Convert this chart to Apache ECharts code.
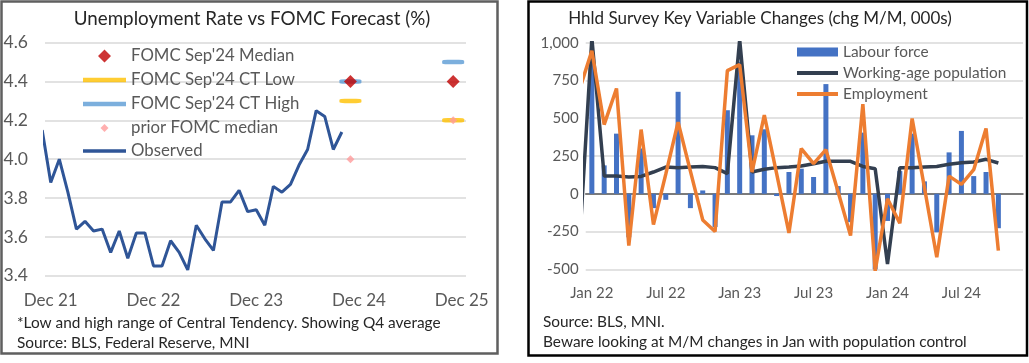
<!DOCTYPE html>
<html><head><meta charset="utf-8">
<script src="https://cdn.jsdelivr.net/npm/echarts@6/dist/echarts.min.js"></script>
<style>html,body{margin:0;padding:0;background:#fff}#c{width:1029px;height:363px}</style>
</head><body><div id="c"></div>
<script>
// ---------- Left chart data ----------
const obsMonths = ['Nov 21','Dec 21','Jan 22','Feb 22','Mar 22','Apr 22','May 22','Jun 22','Jul 22','Aug 22','Sep 22','Oct 22','Nov 22','Dec 22',
  'Jan 23','Feb 23','Mar 23','Apr 23','May 23','Jun 23','Jul 23','Aug 23','Sep 23','Oct 23','Nov 23','Dec 23',
  'Jan 24','Feb 24','Mar 24','Apr 24','May 24','Jun 24','Jul 24','Aug 24','Sep 24','Oct 24'];
const observed = [4.15, 3.88, 4.0, 3.83, 3.64, 3.68, 3.63, 3.64, 3.52, 3.63, 3.49, 3.62, 3.62, 3.45,
  3.45, 3.58, 3.52, 3.43, 3.66, 3.59, 3.53, 3.78, 3.78, 3.84, 3.73, 3.74,
  3.66, 3.86, 3.83, 3.87, 3.97, 4.05, 4.25, 4.22, 4.05, 4.14];
const fcMonths = ['Nov 24', 'Nov 25'];        // Q4 average plotted mid-quarter
const fomcMedian = [4.4, 4.4];
const ctLow = [4.3, 4.2];
const ctHigh = [4.4, 4.5];
const priorMedian = [4.0, 4.2];
const leftTicks = ['Dec 21','Dec 22','Dec 23','Dec 24','Dec 25'];

// ---------- Right chart data ----------
const hhMonths = ['Dec 21','Jan 22','Feb 22','Mar 22','Apr 22','May 22','Jun 22','Jul 22','Aug 22','Sep 22','Oct 22','Nov 22','Dec 22',
  'Jan 23','Feb 23','Mar 23','Apr 23','May 23','Jun 23','Jul 23','Aug 23','Sep 23','Oct 23','Nov 23','Dec 23',
  'Jan 24','Feb 24','Mar 24','Apr 24','May 24','Jun 24','Jul 24','Aug 24','Sep 24','Oct 24'];
const labourForce = [null, 880, 188, 398, -288, 300, -95, -40, 675, -95, 22, -220, 553,
  874, 387, 427, -15, 144, 166, 111, 726, 51, -188, 405, -520,
  -180, 150, 398, 82, -255, 274, 416, 117, 144, -228];
const workingAgePop = [-330, 1030, 117, 117, 111, 115, 144, 177, 173, 177, 181, 173, 133,
  1020, 144, 162, 173, 177, 184, 199, 215, 215, 215, 181, 166,
  -465, 173, 173, 177, 181, 195, 206, 210, 228, 204];
const employment = [690, 947, 458, 697, -343, 425, -204, 130, 474, 150, -173, -250, 815,
  855, 144, 520, 133, -259, 299, 199, 292, 10, -277, 593, -510,
  -33, -195, 498, 40, -420, 117, 62, 159, 432, -376];
const rightTicks = ['Jan 22','Jul 22','Jan 23','Jul 23','Jan 24','Jul 24'];

// ---------- helpers ----------
const MON = {Jan:1,Feb:2,Mar:3,Apr:4,May:5,Jun:6,Jul:7,Aug:8,Sep:9,Oct:10,Nov:11,Dec:12};
function mIdx(lbl, base){ const [m,y]=lbl.split(' '); return (+y)*12+MON[m] - base; }
const baseL = 21*12+12;  // Dec 21 = 0
const baseR = 22*12+1;   // Jan 22 = 0
const pairs = (months, vals, base) => months.map((m,i)=>[mIdx(m,base), vals[i]]);

const FONT = "Lato, 'Liberation Sans', sans-serif";
const GREY = '#595959';
const C = {median:'#C00000', low:'#FFC000', high:'#5B9BD5', prior:'#FF9B9B', obs:'#2F5597',
  bar:'#4472C4', pop:'#333F50', emp:'#ED7D31'};

function bboxPath(w, h, body){ // keeps icon bounding box fixed at w x h
  return 'path://M0,0L0.01,0L0.01,0.01Z M'+w+','+h+'L'+(w-0.01)+','+h+'L'+(w-0.01)+','+(h-0.01)+'Z '+body;
}
function diamondIcon(w, h, s){ const cx=w/2, cy=h/2;
  return bboxPath(w,h,'M'+(cx-s/2)+','+cy+'L'+cx+','+(cy-s/2)+'L'+(cx+s/2)+','+cy+'L'+cx+','+(cy+s/2)+'Z'); }
function barIcon(w, h, t){ const cy=h/2;
  return bboxPath(w,h,'M0,'+(cy-t/2)+'L'+w+','+(cy-t/2)+'L'+w+','+(cy+t/2)+'L0,'+(cy+t/2)+'Z'); }
const IH = 24;
function legend(name, left, cy, w, icon, color, fs){
  return {left:left, top:cy-IH/2, padding:0, itemWidth:w, itemHeight:IH, selectedMode:false,
    textStyle:{color:GREY, fontSize:fs, fontFamily:FONT},
    data:[{name:name, icon:icon, itemStyle:{color:color, borderWidth:0}}]};
}

const option = {
  animation:false,
  backgroundColor:'#fff',
  title:[
    {text:'Unemployment Rate vs FOMC Forecast (%)', left:247, top:4, textAlign:'center',
     textStyle:{fontFamily:FONT, fontSize:18.8, fontWeight:'normal', color:'#262626'}},
    {text:'Hhld Survey Key Variable Changes (chg M/M, 000s)', left:755, top:5, textAlign:'center',
     textStyle:{fontFamily:FONT, fontSize:17, fontWeight:'normal', color:'#262626'}}
  ],
  legend:[
    legend("FOMC Sep'24 Median", 83, 56, 43, diamondIcon(43,IH,13), C.median, 16.8),
    legend("FOMC Sep'24 CT Low", 83, 80, 43, barIcon(43,IH,4.5), C.low, 16.8),
    legend("FOMC Sep'24 CT High", 83, 104, 43, barIcon(43,IH,4.5), C.high, 16.8),
    legend('prior FOMC median', 83, 128, 43, diamondIcon(43,IH,8), C.prior, 16.8),
    legend('Observed', 83, 151, 43, barIcon(43,IH,3.5), C.obs, 16.8),
    legend('Labour force', 797, 52, 41, barIcon(41,IH,9), C.bar, 15.4),
    legend('Working-age population', 797, 73, 41, barIcon(41,IH,4), C.pop, 15.4),
    legend('Employment', 797, 94, 41, barIcon(41,IH,4), C.emp, 15.4)
  ],
  grid:[
    {left:45, top:42.7, width:421, height:233},
    {left:585.7, top:42.7, width:437.3, height:226.6}
  ],
  xAxis:[
    {type:'value', gridIndex:0, min:-0.67, max:48.5,
     axisLine:{show:false}, axisTick:{show:false}, splitLine:{show:false},
     axisLabel:{customValues:leftTicks.map(t=>mIdx(t,baseL)), formatter:v=>leftTicks.find(t=>mIdx(t,baseL)===v)||'',
       color:GREY, fontSize:17, fontFamily:FONT, margin:16}},
    {type:'value', gridIndex:1, min:-0.5, max:35,
     axisLine:{show:true, onZero:true, lineStyle:{color:GREY, width:1.5}}, axisTick:{show:false}, splitLine:{show:false},
     axisLabel:{customValues:rightTicks.map(t=>mIdx(t,baseR)), formatter:v=>rightTicks.find(t=>mIdx(t,baseR)===v)||'',
       color:GREY, fontSize:15, fontFamily:FONT, margin:16}}
  ],
  yAxis:[
    {type:'value', gridIndex:0, min:3.4, max:4.6, interval:0.2,
     axisLine:{show:false}, axisTick:{show:false},
     splitLine:{lineStyle:{color:'#D9D9D9', width:1.5}},
     axisLabel:{formatter:v=>v.toFixed(1), color:GREY, fontSize:17.5, fontFamily:FONT, margin:17}},
    {type:'value', gridIndex:1, min:-500, max:1000, interval:250,
     axisLine:{show:false}, axisTick:{show:false},
     splitLine:{lineStyle:{color:'#D9D9D9', width:1.5}},
     axisLabel:{formatter:v=>v.toLocaleString('en-US'), color:GREY, fontSize:15, fontFamily:FONT, margin:7}}
  ],
  series:[
    {name:"FOMC Sep'24 CT Low", type:'scatter', xAxisIndex:0, yAxisIndex:0, symbol:'roundRect', symbolSize:[22,4.5],
     itemStyle:{color:C.low}, data:pairs(fcMonths, ctLow, baseL), z:3},
    {name:"FOMC Sep'24 CT High", type:'scatter', xAxisIndex:0, yAxisIndex:0, symbol:'roundRect', symbolSize:[22,4.5],
     itemStyle:{color:C.high}, data:pairs(fcMonths, ctHigh, baseL), z:3},
    {name:'prior FOMC median', type:'scatter', xAxisIndex:0, yAxisIndex:0, symbol:'diamond', symbolSize:8,
     itemStyle:{color:C.prior}, data:pairs(fcMonths, priorMedian, baseL), z:4},
    {name:"FOMC Sep'24 Median", type:'scatter', xAxisIndex:0, yAxisIndex:0, symbol:'diamond', symbolSize:13,
     itemStyle:{color:C.median}, data:pairs(fcMonths, fomcMedian, baseL), z:5},
    {name:'Observed', type:'line', xAxisIndex:0, yAxisIndex:0, showSymbol:false, symbol:'none', clip:true,
     lineStyle:{color:C.obs, width:3}, itemStyle:{color:C.obs}, data:pairs(obsMonths, observed, baseL), z:3},

    {name:'Labour force', type:'bar', xAxisIndex:1, yAxisIndex:1, barWidth:5, clip:true,
     itemStyle:{color:C.bar}, data:pairs(hhMonths, labourForce, baseR)},
    {name:'Working-age population', type:'line', xAxisIndex:1, yAxisIndex:1, symbol:'none', showSymbol:false, clip:true,
     lineStyle:{color:C.pop, width:3.5}, itemStyle:{color:C.pop}, data:pairs(hhMonths, workingAgePop, baseR), z:3},
    {name:'Employment', type:'line', xAxisIndex:1, yAxisIndex:1, symbol:'none', showSymbol:false, clip:true,
     lineStyle:{color:C.emp, width:3.5}, itemStyle:{color:C.emp}, data:pairs(hhMonths, employment, baseR), z:4}
  ],
  graphic:[
    {type:'rect', shape:{x:1.5, y:1.5, width:496, height:352}, style:{fill:null, stroke:'#5f5f5f', lineWidth:2.5}, silent:true},
    {type:'rect', shape:{x:528.5, y:1.5, width:498.5, height:354}, style:{fill:null, stroke:'#000', lineWidth:2.5}, silent:true},
    {type:'text', x:17, y:323, style:{text:'*Low and high range of Central Tendency. Showing Q4 average', fill:'#262626', font:'15.4px '+FONT, textVerticalAlign:'middle'}},
    {type:'text', x:17, y:343, style:{text:'Source: BLS, Federal Reserve, MNI', fill:'#262626', font:'15.4px '+FONT, textVerticalAlign:'middle'}},
    {type:'text', x:543, y:322, style:{text:'Source: BLS, MNI.', fill:'#262626', font:'15.4px '+FONT, textVerticalAlign:'middle'}},
    {type:'text', x:543, y:342, style:{text:'Beware looking at M/M changes in Jan with population control', fill:'#262626', font:'15.4px '+FONT, textVerticalAlign:'middle'}}
  ]
};
echarts.init(document.getElementById('c'), null, {renderer:'canvas'}).setOption(option);
</script></body></html>
